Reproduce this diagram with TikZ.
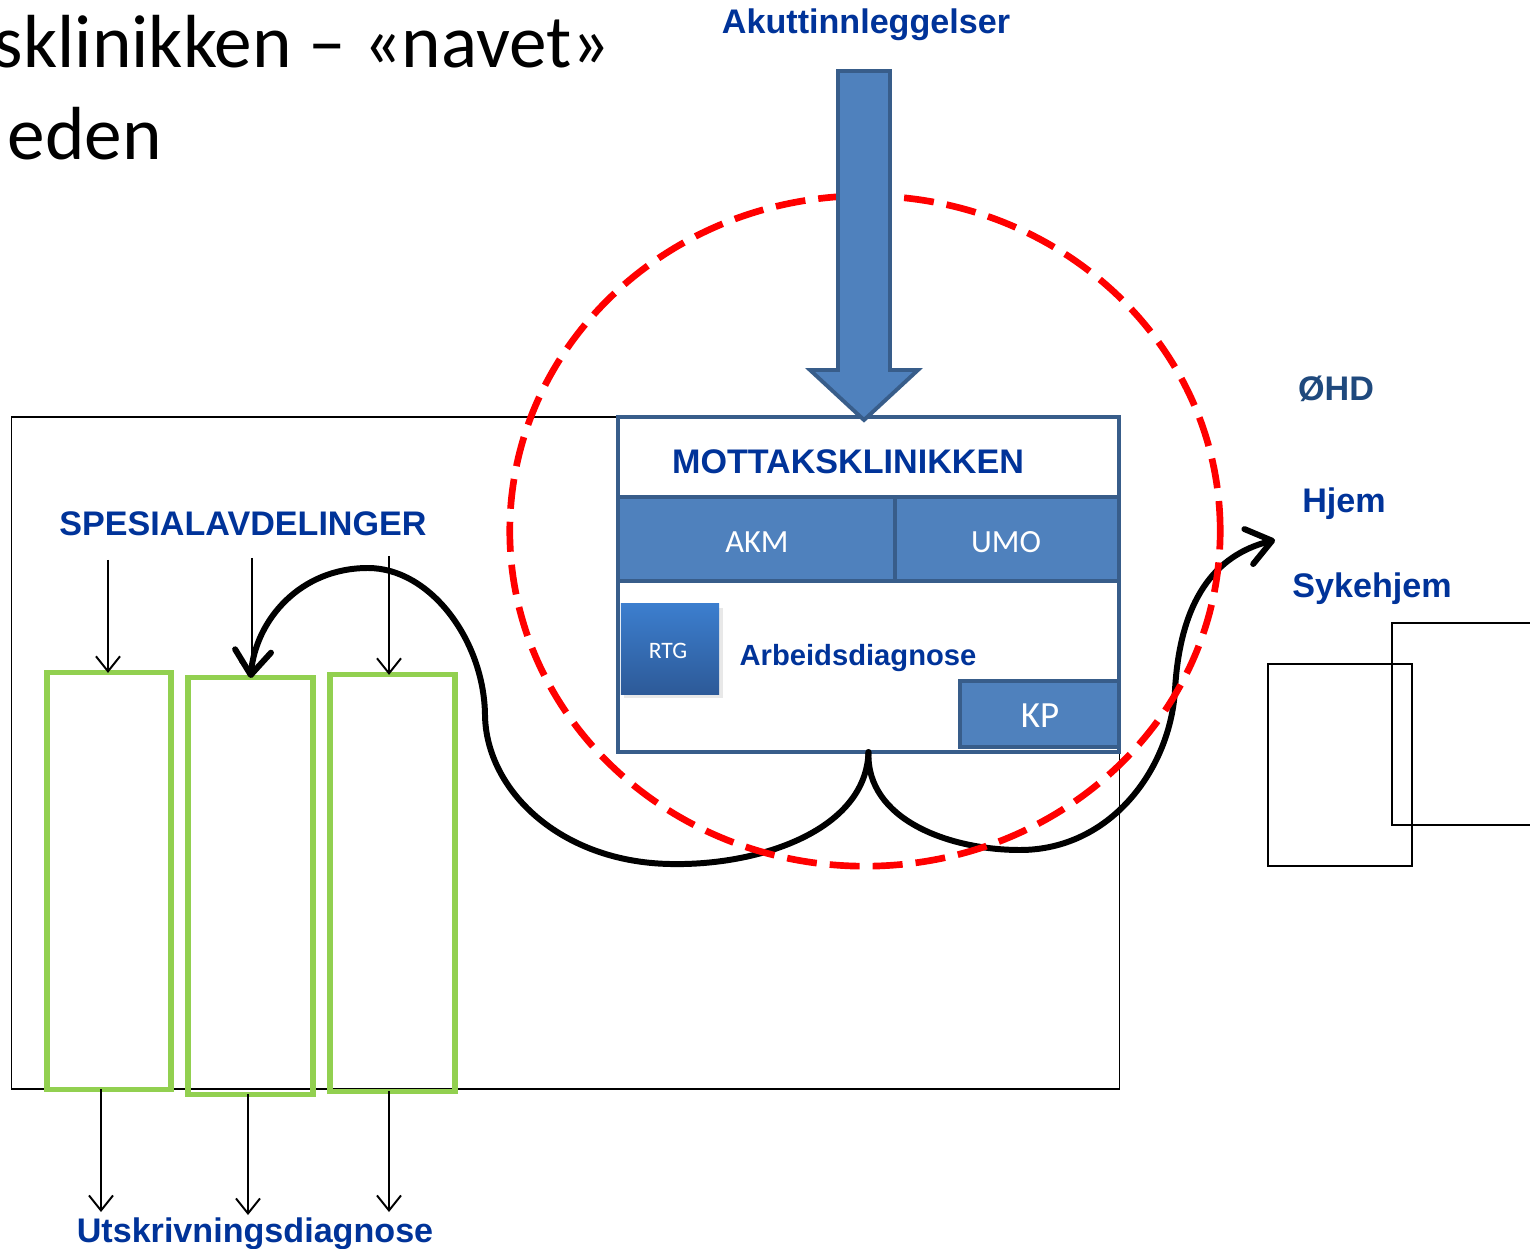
\documentclass[tikz,border=0pt]{standalone}
\usepackage{fontspec}
\setmainfont{Liberation Sans}
\newfontfamily\calibri{Carlito}
\usetikzlibrary{arrows.meta,shadows}
\definecolor{txtblue}{RGB}{0,51,153}
\definecolor{ohdblue}{RGB}{31,73,125}
\definecolor{mkfill}{RGB}{79,129,189}
\definecolor{mkborder}{RGB}{56,93,138}
\definecolor{grn}{RGB}{146,208,80}
\definecolor{rtgtop}{RGB}{60,126,206}
\definecolor{rtgbot}{RGB}{45,90,152}
\tikzset{
  bluetxt/.style={font=\fontsize{9.7}{11}\selectfont\bfseries, text=txtblue, inner sep=0pt},
  mkpart/.style={draw=mkborder, line width=1.1pt, fill=mkfill, inner sep=0pt, outer sep=0pt, text=white, font=\calibri\fontsize{9.2}{11}\selectfont},
  greenbox/.style={draw=grn, line width=1.45pt, inner sep=0pt, outer sep=0pt},
  plainbox/.style={draw=black, line width=0.45pt, inner sep=0pt, outer sep=0pt},
  thinarrow/.style={line width=0.55pt, -{Straight Barb[length=1.5mm,width=2.4mm]}},
  thickarrow/.style={line width=1.7pt, line cap=round, -{Straight Barb[length=2.4mm,width=3.6mm,round]}},
  redring/.style={draw=red, line width=1.9pt, dash pattern=on 3mm off 1.3mm},
}
\begin{document}
\begin{tikzpicture}[x=0.01cm,y=-0.01cm]
\clip (0,0) rectangle (1530,1249);
\fill[white] (0,0) rectangle (1530,1249);

% title fragments
\node[anchor=base east, inner sep=0pt, font=\calibri\fontsize{21.4}{25}\selectfont] (title1) at (611,68) {sklinikken – «navet»};
\node[anchor=base west, inner sep=0pt, font=\calibri\fontsize{21.4}{25}\selectfont] (title2) at (7,160) {eden};

% big frame
\node[plainbox, minimum width=11.07cm, minimum height=6.72cm] (frame) at (565.5,753) {};

% green department boxes
\node[greenbox, minimum width=1.24cm, minimum height=4.16cm] (g1) at (109,881) {};
\node[greenbox, minimum width=1.25cm, minimum height=4.16cm] (g2) at (250.5,886) {};
\node[greenbox, minimum width=1.25cm, minimum height=4.16cm] (g3) at (392.5,883) {};

\node[bluetxt, anchor=base] (spes) at (243,535) {SPESIALAVDELINGER};
\coordinate (t1) at (108,560);
\coordinate (t2) at (252,558);
\coordinate (t3) at (389,556);
\draw[thinarrow] (t1) -- (t1 |- g1.north);
\draw[thinarrow] (t2) -- (t2 |- g2.north);
\draw[thinarrow] (t3) -- (t3 |- g3.north);

\coordinate (b1) at (101,1212);
\coordinate (b2) at (248,1215);
\coordinate (b3) at (389,1212);
\draw[thinarrow] (b1 |- g1.south) -- (b1);
\draw[thinarrow] (b2 |- g2.south) -- (b2);
\draw[thinarrow] (b3 |- g3.south) -- (b3);
\node[bluetxt, anchor=base] (utskr) at (255,1242) {Utskrivningsdiagnose};

% right boxes
\node[plainbox, minimum width=1.44cm, minimum height=2.02cm] (ra) at (1340,765) {};
\node[plainbox, minimum width=1.48cm, minimum height=2.02cm] (rb) at (1466,724) {};

% Mottaksklinikken box
\node[draw=mkborder, line width=1.1pt, fill=white, inner sep=0pt, outer sep=0pt, minimum width=5.01cm, minimum height=3.35cm] (mk) at (868.5,584.5) {};

% flows
\coordinate (hjemtip) at (1275,540);
\draw[thickarrow] (mk.south) .. controls (866,830) and (760,866) .. (670,864)
   .. controls (560,862) and (486,790) .. (485,715)
   .. controls (484,640) and (430,568) .. (368,568)
   .. controls (300,568) and (256,620) .. (g2.north);
\draw[thickarrow] (mk.south) .. controls (866,820) and (950,850) .. (1020,850)
   .. controls (1110,850) and (1170,770) .. (1175,690)
   .. controls (1180,600) and (1215,555) .. (hjemtip);

% red ring
\draw[redring] (865,531) ellipse [x radius=3.55cm, y radius=3.35cm];

% inner parts
\node[mkpart, minimum width=2.77cm, minimum height=0.84cm] (akm) at (756.5,539) {};
\node[mkpart, minimum width=2.24cm, minimum height=0.84cm] (umo) at (1007,539) {};
\node[text=white, inner sep=0pt, anchor=base, font=\calibri\fontsize{9.2}{11}\selectfont] (akmt) at (757,552) {AKM};
\node[text=white, inner sep=0pt, anchor=base, font=\calibri\fontsize{9.2}{11}\selectfont] (umot) at (1006,552) {UMO};
\node[draw=none, top color=rtgtop, bottom color=rtgbot, inner sep=0pt, outer sep=0pt, minimum width=0.98cm, minimum height=0.90cm,
      drop shadow={opacity=0.18, shadow xshift=0.35mm, shadow yshift=-0.4mm}] (rtg) at (670,649) {};
\draw[mkborder, line width=1.1pt] (mk.north west) -- (mk.south west);
\node[text=white, inner sep=0pt, anchor=base, font=\calibri\fontsize{6.7}{8}\selectfont] (rtgt) at (668,659) {RTG};
\node[mkpart, minimum width=1.59cm, minimum height=0.66cm] (kp) at (1039.5,714) {};
\node[text=white, inner sep=0pt, anchor=base, font=\calibri\fontsize{10.5}{12}\selectfont] (kpt) at (1040,727) {KP};
\node[bluetxt, anchor=base] (mktitle) at (848,474) {MOTTAKSKLINIKKEN};
\node[bluetxt, anchor=base, font=\fontsize{8.3}{10}\selectfont\bfseries] (arb) at (858,665) {Arbeidsdiagnose};

% block arrow
\node[bluetxt, anchor=base] (akutt) at (866,34) {Akuttinnleggelser};
\draw[draw=mkborder, fill=mkfill, line width=1.1pt, line join=miter]
  (838,71) -- (890,71) -- (890,370) -- (918,370) -- (864,420) -- (810,370) -- (838,370) -- cycle;

% destinations
\node[bluetxt, anchor=base, text=ohdblue] (ohd) at (1336,401) {ØHD};
\node[bluetxt, anchor=base] (hjem) at (1344,513) {Hjem};
\node[bluetxt, anchor=base] (syke) at (1372,597) {Sykehjem};
\end{tikzpicture}
\end{document}
